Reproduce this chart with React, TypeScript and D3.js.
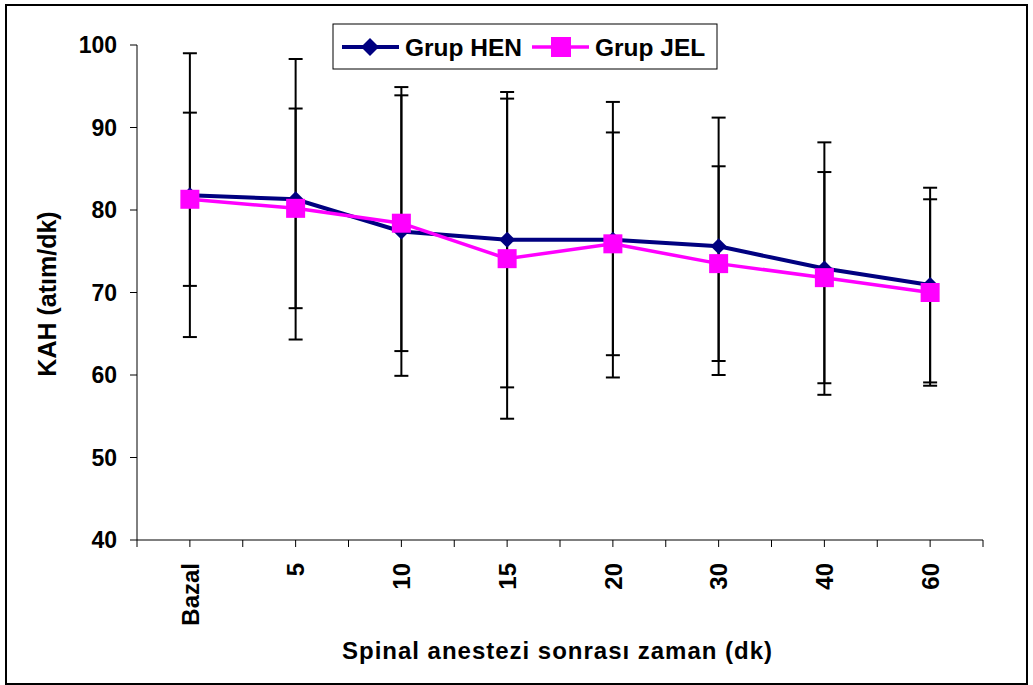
import React from 'react';
import * as d3 from 'd3';

// time points after spinal anaesthesia
const categories = ["Bazal", "5", "10", "15", "20", "30", "40", "60"];
// Grup HEN: mean and SD
const henMean = [81.8, 81.3, 77.4, 76.4, 76.4, 75.6, 72.9, 70.9];
const henSD = [17.2, 17.0, 17.5, 17.9, 16.7, 15.6, 15.3, 11.8];
// Grup JEL: mean and SD
const jelMean = [81.3, 80.2, 78.4, 74.1, 75.9, 73.5, 71.8, 70.0];
const jelSD = [10.5, 12.1, 15.5, 19.4, 13.5, 11.8, 12.8, 11.3];
const yTicks = [40, 50, 60, 70, 80, 90, 100];

const W = 1033, H = 685;
const font = "'Liberation Sans', Arial, sans-serif";
const HEN_COLOR = "#000080";
const JEL_COLOR = "#FF00FF";

export default function App() {
  const x = d3.scaleBand().domain(categories).range([137, 983]).paddingInner(0).paddingOuter(0);
  const y = d3.scaleLinear().domain([40, 100]).range([540, 45]);
  const cx = (c: string) => (x(c) as number) + x.bandwidth() / 2;

  const line = d3.line<number>()
    .x((d, i) => cx(categories[i]))
    .y(d => y(d));

  // ticks at band edges and band centres
  const xTicks: number[] = [];
  categories.forEach(c => {
    xTicks.push(x(c) as number);
    xTicks.push(cx(c));
  });
  xTicks.push(983);

  const errorBars = (means: number[], sds: number[]) =>
    means.map((m, i) => {
      const px = cx(categories[i]);
      const top = y(m + sds[i]);
      const bot = y(m - sds[i]);
      return (
        <g key={i} stroke="#000" strokeWidth={2}>
          <line x1={px} x2={px} y1={top} y2={bot} />
          <line x1={px - 7} x2={px + 7} y1={top} y2={top} />
          <line x1={px - 7} x2={px + 7} y1={bot} y2={bot} />
        </g>
      );
    });

  const diamond = (px: number, py: number, r: number) =>
    `M${px},${py - r}L${px + r},${py}L${px},${py + r}L${px - r},${py}Z`;

  return (
    <svg width={W} height={H} style={{ position: 'absolute', left: 0, top: 0, background: '#fff' }}
      fontFamily={font}>
      <rect x={0} y={0} width={W} height={H} fill="#fff" />
      <rect x={6} y={5} width={1021} height={679} fill="none" stroke="#000" strokeWidth={2} />

      {/* y axis */}
      <line x1={137} x2={137} y1={y(100)} y2={y(40)} stroke="#000" strokeWidth={1} />
      {yTicks.map(t => (
        <g key={t}>
          <line x1={130} x2={137} y1={y(t)} y2={y(t)} stroke="#000" strokeWidth={1} />
          <text x={117} y={y(t)} dy="0.36em" textAnchor="end" fontSize={23} fontWeight="bold">{t}</text>
        </g>
      ))}

      {/* x axis */}
      <line x1={137} x2={983} y1={540} y2={540} stroke="#000" strokeWidth={1} />
      {xTicks.map((t, i) => (
        <line key={i} x1={t} x2={t} y1={540} y2={547} stroke="#000" strokeWidth={1} />
      ))}
      {categories.map(c => (
        <text key={c} transform={`translate(${cx(c)},563) rotate(-90)`} textAnchor="end" dy="0.36em"
          fontSize={24} fontWeight="bold">{c}</text>
      ))}

      {/* axis titles */}
      <text x={557} y={659} textAnchor="middle" fontSize={24} fontWeight="bold"
        textLength={430} lengthAdjust="spacing">Spinal anestezi sonrası zaman (dk)</text>
      <text transform="translate(47,294) rotate(-90)" textAnchor="middle" dy="0.36em"
        fontSize={25} fontWeight="bold">KAH (atım/dk)</text>

      {/* error bars */}
      {errorBars(henMean, henSD)}
      {errorBars(jelMean, jelSD)}

      {/* Grup HEN */}
      <path d={line(henMean) as string} fill="none" stroke={HEN_COLOR} strokeWidth={4} />
      {henMean.map((m, i) => (
        <path key={i} d={diamond(cx(categories[i]), y(m), 8)} fill={HEN_COLOR} />
      ))}

      {/* Grup JEL */}
      <path d={line(jelMean) as string} fill="none" stroke={JEL_COLOR} strokeWidth={3.5} />
      {jelMean.map((m, i) => (
        <rect key={i} x={cx(categories[i]) - 9.5} y={y(m) - 9.5} width={19} height={19} fill={JEL_COLOR} />
      ))}

      {/* legend */}
      <rect x={333} y={24} width={384} height={45} fill="#fff" stroke="#000" strokeWidth={1} />
      <line x1={342} x2={399} y1={47} y2={47} stroke={HEN_COLOR} strokeWidth={4} />
      <path d={diamond(370, 47, 9)} fill={HEN_COLOR} />
      <text x={405} y={47} dy="0.36em" fontSize={24.5} fontWeight="bold">Grup HEN</text>
      <line x1={532} x2={589} y1={47} y2={47} stroke={JEL_COLOR} strokeWidth={3.5} />
      <rect x={551} y={37} width={20} height={20} fill={JEL_COLOR} />
      <text x={595} y={47} dy="0.36em" fontSize={24.5} fontWeight="bold">Grup JEL</text>
    </svg>
  );
}
